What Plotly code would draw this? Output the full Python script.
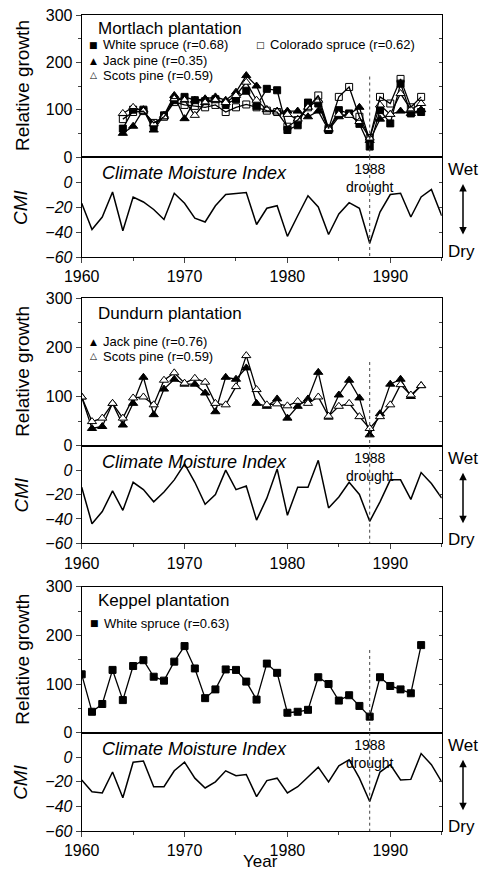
import plotly.graph_objects as go

W, H = 479, 871
FONT = "Liberation Sans, Arial, sans-serif"

years_cmi = list(range(1960, 1996))
years_mort = list(range(1964, 1994))
years_60_93 = list(range(1960, 1994))

# ---- Mortlach ----
mort_white_spruce = [60, 100, 100, 65, 88, 120, 127, 120, 118, 122,
                     112, 122, 140, 108, 144, 141, 57, 67, 115, 113,
                     57, 99, 92, 70, 22, 99, 71, 155, 92, 95]
mort_jack_pine = [50, 65, 100, 57, 88, 130, 81, 120, 123, 127,
                  120, 137, 172, 150, 100, 97, 97, 97, 85, 97,
                  57, 85, 90, 105, 35, 80, 90, 97, 92, 100]
mort_scots_pine = [92, 105, 97, 70, 85, 123, 120, 88, 115, 120,
                   115, 130, 158, 120, 100, 95, 90, 80, 105, 120,
                   60, 90, 88, 75, 40, 110, 90, 134, 100, 113]
mort_colorado_spruce = [80, 95, 97, 72, 85, 116, 110, 108, 105, 110,
                        95, 105, 111, 105, 98, 95, 64, 78, 105, 130,
                        60, 127, 148, 85, 40, 127, 113, 165, 105, 127]
mort_cmi = [-17, -38, -28, -8, -39, -12, -16, -22, -30, -9,
            -17, -29, -32, -19, -10, -9, -8.5, -34, -21, -19,
            -43.5, -27, -11, -20, -42, -25.5, -16.5, -21, -49, -24,
            -10, -9, -28, -12, -6, -27]

# ---- Dundurn ----
dund_jack_pine = [99, 35, 39, 86, 42, 86, 139, 63, 115, 135,
                  125, 125, 107, 69, 139, 135, 158, 86, 80, 95,
                  56, 80, 95, 149, 58, 103, 133, 97, 22, 65,
                  125, 135, 100, 122]
dund_scots_pine = [99, 49, 56, 86, 56, 97, 99, 83, 133, 148,
                   127, 137, 129, 86, 83, 120, 183, 114, 83, 85,
                   81, 90, 86, 99, 60, 80, 86, 59, 35, 59,
                   83, 124, 103, 122]
dund_cmi = [-14, -44, -34, -17, -33, -10, -16, -26, -18, -8,
            5, -10, -28, -20, 0, -16, -13, -41, -23, 1,
            -37, -14, -14, 8, -31, -22, -10, -20, -42, -26,
            -8, -8, -24, -2, -11, -23]

# ---- Keppel ----
kepp_white_spruce = [120, 43, 59, 129, 67, 137, 149, 115, 107, 146,
                     178, 132, 71, 89, 130, 129, 105, 68, 142, 123,
                     41, 43, 47, 114, 100, 66, 77, 55, 33, 114,
                     96, 89, 81, 180]
kepp_cmi = [-18.5, -28, -29, -12, -33, -4, -3, -24, -24, -11,
            -4, -17, -25, -20, -11, -15, -14, -32, -19, -17,
            -29, -24, -16, -8, -20, -7, -2, -17, -36, -12,
            -6, -18.5, -18, 3, -6, -20]

growth_ticks = [0, 100, 200, 300]
cmi_ticks = [-60, -40, -20, 0]
year_ticks = [1960, 1970, 1980, 1990]
drought_year = 1988

panel_titles = ["Mortlach plantation", "Dundurn plantation", "Keppel plantation"]

SYM = {
    "ws": dict(symbol="square", size=7, color="black", line=dict(color="black", width=1)),
    "cs": dict(symbol="square-open", size=7, color="black", line=dict(color="black", width=1)),
    "jp": dict(symbol="triangle-up", size=8, color="black", line=dict(color="black", width=1)),
    "sp": dict(symbol="triangle-up", size=8, color="white", line=dict(color="black", width=1)),
}
GLYPH = {"ws": "■", "cs": "□", "jp": "▲", "sp": "△"}

panels = [
    dict(series=[("ws", years_mort, mort_white_spruce),
                 ("jp", years_mort, mort_jack_pine),
                 ("sp", years_mort, mort_scots_pine),
                 ("cs", years_mort, mort_colorado_spruce)],
         cmi=mort_cmi,
         legend=[("ws", "White spruce (r=0.68)", 93, 45),
                 ("cs", "Colorado spruce (r=0.62)", 260, 45),
                 ("jp", "Jack pine (r=0.35)", 93, 61),
                 ("sp", "Scots pine (r=0.59)", 93, 75)],
         gtop=15, gbot=157, cbot=257, title_y=28),
    dict(series=[("jp", years_60_93, dund_jack_pine),
                 ("sp", years_60_93, dund_scots_pine)],
         cmi=dund_cmi,
         legend=[("jp", "Jack pine (r=0.76)", 93, 342),
                 ("sp", "Scots pine (r=0.59)", 93, 356)],
         gtop=298, gbot=445.7, cbot=543.3, title_y=313),
    dict(series=[("ws", years_60_93, kepp_white_spruce)],
         cmi=kepp_cmi,
         legend=[("ws", "White spruce (r=0.63)", 94, 623)],
         gtop=586.7, gbot=732.7, cbot=831, title_y=600),
]

XL, XR = 81.7, 441.7


def py(p):
    return 1 - p / H


def px(p):
    return p / W


fig = go.Figure()
layout = dict(width=W, height=H, margin=dict(l=0, r=0, t=0, b=0, pad=0, autoexpand=False),
              paper_bgcolor="white", plot_bgcolor="white", showlegend=False,
              font=dict(family=FONT, color="black"))
annotations = []
shapes = []

for i, p in enumerate(panels):
    gi, ci = 2 * i + 1, 2 * i + 2
    gx, gy = f"x{gi}", f"y{gi}"
    cx, cy = f"x{ci}", f"y{ci}"
    xd = [px(XL), px(XR)]
    layout[f"xaxis{gi}"] = dict(domain=xd, range=[1960, 1995], anchor=gy, showticklabels=False,
                                showline=True, linecolor="black", linewidth=1, mirror=True,
                                ticks="", showgrid=False, zeroline=False, automargin=False)
    layout[f"yaxis{gi}"] = dict(domain=[py(p["gbot"]), py(p["gtop"])], range=[0, 300], anchor=gx,
                                tickvals=growth_ticks, ticks="outside", ticklen=5, tickwidth=1,
                                minor=dict(dtick=50, ticks="outside", ticklen=3, tickwidth=1),
                                showline=True, linecolor="black", linewidth=1, mirror=True,
                                showgrid=False, zeroline=False, automargin=False,
                                tickfont=dict(size=16, family=FONT))
    layout[f"xaxis{ci}"] = dict(domain=xd, range=[1960, 1995], anchor=cy,
                                tickvals=year_ticks, ticks="outside", ticklen=5, tickwidth=1,
                                minor=dict(dtick=5, ticks="outside", ticklen=3, tickwidth=1),
                                showline=True, linecolor="black", linewidth=1, mirror=True,
                                showgrid=False, zeroline=False, automargin=False,
                                tickfont=dict(size=16, family=FONT))
    layout[f"yaxis{ci}"] = dict(domain=[py(p["cbot"]), py(p["gbot"])], range=[-60, 20], anchor=cx,
                                tickvals=cmi_ticks, ticks="outside", ticklen=5, tickwidth=1,
                                showline=True, linecolor="black", linewidth=1, mirror=True,
                                showgrid=False, zeroline=False, automargin=False,
                                tickfont=dict(size=16, family=FONT, style="italic"))
    # right-side inside ticks
    rg, rc = 7 + 2 * i, 8 + 2 * i
    layout[f"yaxis{rg}"] = dict(overlaying=gy, side="right", anchor=gx, range=[0, 300],
                                dtick=50, ticks="inside", ticklen=3, showticklabels=False,
                                showgrid=False, zeroline=False, showline=False, automargin=False)
    layout[f"yaxis{rc}"] = dict(overlaying=cy, side="right", anchor=cx, range=[-60, 20],
                                dtick=20, ticks="inside", ticklen=3, showticklabels=False,
                                showgrid=False, zeroline=False, showline=False, automargin=False)
    fig.add_trace(go.Scatter(x=[None], y=[None], xaxis=gx, yaxis=f"y{rg}", hoverinfo="skip"))
    fig.add_trace(go.Scatter(x=[None], y=[None], xaxis=cx, yaxis=f"y{rc}", hoverinfo="skip"))

    # growth series
    for key, xs, ys in p["series"]:
        fig.add_trace(go.Scatter(x=xs, y=ys, xaxis=gx, yaxis=gy, mode="lines+markers",
                                 line=dict(color="black", width=1.3), marker=SYM[key]))
    # CMI series
    fig.add_trace(go.Scatter(x=years_cmi, y=p["cmi"], xaxis=cx, yaxis=cy, mode="lines",
                             line=dict(color="black", width=1.5)))

    # 1988 drought line
    shapes.append(dict(type="line", xref=gx, yref=gy, x0=drought_year, x1=drought_year, y0=170, y1=0,
                       line=dict(color="#444", width=1, dash="dot")))
    shapes.append(dict(type="line", xref=cx, yref=cy, x0=drought_year, x1=drought_year, y0=20, y1=-60,
                       line=dict(color="#444", width=1, dash="dot")))
    annotations.append(dict(x=drought_year, y=py(p["gbot"] + 21), xref=cx, yref="paper",
                            text="1988<br>drought", showarrow=False, xanchor="center", yanchor="middle",
                            font=dict(size=14, family=FONT)))

    # titles / legends
    annotations.append(dict(x=px(96), y=py(p["title_y"]), xref="paper", yref="paper",
                            text=panel_titles[i], showarrow=False, xanchor="left", yanchor="middle",
                            font=dict(size=17, family=FONT)))
    for key, label, lx, ly in p["legend"]:
        annotations.append(dict(x=px(lx), y=py(ly), xref="paper", yref="paper", text=GLYPH[key],
                                showarrow=False, xanchor="center", yanchor="middle",
                                font=dict(size=9, family="DejaVu Sans")))
        annotations.append(dict(x=px(lx + 8), y=py(ly), xref="paper", yref="paper", text=label,
                                showarrow=False, xanchor="left", yanchor="middle",
                                font=dict(size=13, family=FONT)))
    annotations.append(dict(x=px(100), y=py(p["gbot"] + 16), xref="paper", yref="paper",
                            text="<i>Climate Moisture Index</i>", showarrow=False, xanchor="left",
                            yanchor="middle", font=dict(size=18, family=FONT)))

    # y axis titles
    annotations.append(dict(x=px(23), y=py((p["gtop"] + p["gbot"]) / 2), xref="paper", yref="paper",
                            text="Relative growth", textangle=-90, showarrow=False,
                            xanchor="center", yanchor="middle", font=dict(size=19, family=FONT)))
    annotations.append(dict(x=px(21), y=py((p["gbot"] + p["cbot"]) / 2), xref="paper", yref="paper",
                            text="<i>CMI</i>", textangle=-90, showarrow=False,
                            xanchor="center", yanchor="middle", font=dict(size=19, family=FONT)))

    # Wet / Dry with arrow
    annotations.append(dict(x=px(446), y=py(p["gbot"] + 13), xref="paper", yref="paper", text="Wet",
                            showarrow=False, xanchor="left", yanchor="middle",
                            font=dict(size=17, family=FONT)))
    annotations.append(dict(x=px(446), y=py(p["gbot"] + 94), xref="paper", yref="paper", text="Dry",
                            showarrow=False, xanchor="left", yanchor="middle",
                            font=dict(size=17, family=FONT)))
    annotations.append(dict(x=px(463), y=py(p["gbot"] + 27), xref="paper", yref="paper", text="",
                            showarrow=True, ax=0, ay=52, arrowhead=2, arrowside="end+start",
                            arrowsize=1, arrowwidth=1.5, arrowcolor="black"))

annotations.append(dict(x=px(260), y=py(861), xref="paper", yref="paper", text="Year",
                        showarrow=False, xanchor="center", yanchor="middle", height=15,
                        font=dict(size=17, family=FONT)))

layout["annotations"] = annotations
layout["shapes"] = shapes
fig.update_layout(**layout)
fig.write_html("out.html", config={"displayModeBar": False},
               post_script="document.body.style.margin='0';document.body.style.padding='0';"
                           "document.documentElement.style.overflow='hidden';")
